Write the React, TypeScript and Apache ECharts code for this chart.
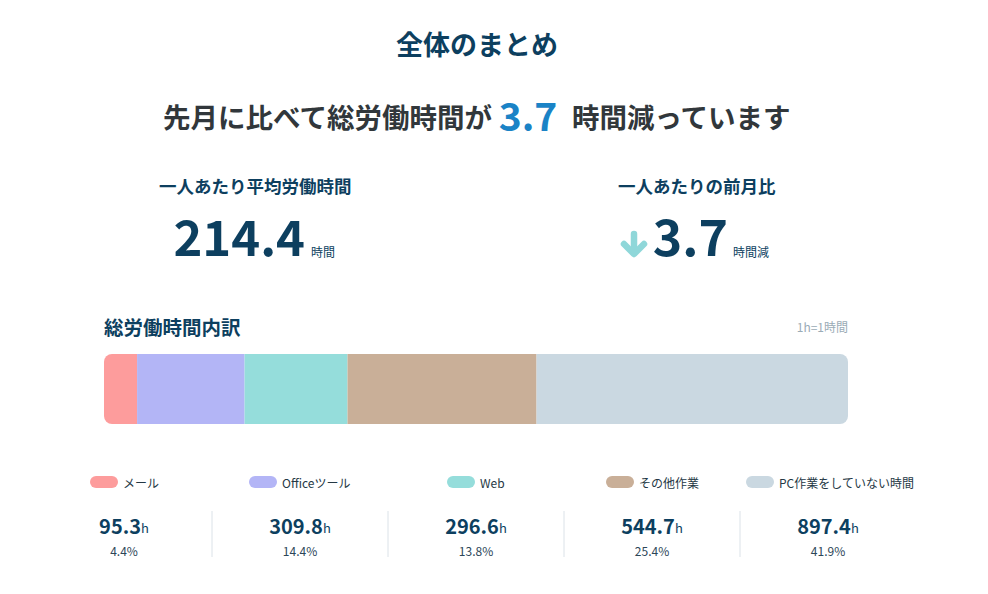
import React, { useEffect, useRef } from "react";
import * as echarts from "echarts";

const categories = ["メール", "Officeツール", "Web", "その他作業", "PC作業をしていない時間"];
const hours = [95.3, 309.8, 296.6, 544.7, 897.4];
const shareLabels = ["4.4%", "14.4%", "13.8%", "25.4%", "41.9%"];
const colors = ["#fd9c9c", "#b3b5f6", "#95dddb", "#c9af98", "#cad8e1"];
const avgHours = "214.4";
const diffHours = "3.7";

const FONT = "'Noto Sans CJK JP', 'Noto Sans', sans-serif";
const NAVY = "#0d3f5f";
const DARK = "#31373b";

const legendLefts = [90, 249, 447, 606, 746];
const colCenters = [124, 300, 476, 652, 828];
const dividers = [212, 388, 564, 740];

export default function App() {
  const ref = useRef<HTMLDivElement>(null);

  useEffect(() => {
    if (!ref.current) return;
    const chart = echarts.init(ref.current, undefined, { renderer: "svg" });
    const total = hours.reduce((a, b) => a + b, 0);
    const last = hours.length - 1;

    const graphic: any[] = [
      {
        type: "text", x: 477, y: 43,
        style: { text: "全体のまとめ", font: `bold 27px ${FONT}`, fill: NAVY, align: "center", verticalAlign: "middle" },
      },
      {
        type: "text", x: 492, y: 116,
        style: { text: "先月に比べて総労働時間が", font: `bold 27.5px ${FONT}`, fill: DARK, align: "right", verticalAlign: "middle" },
      },
      {
        type: "text", x: 528, y: 114,
        style: { text: diffHours, font: `bold 39px ${FONT}`, fill: "#1a83c6", align: "center", verticalAlign: "middle" },
      },
      {
        type: "text", x: 572, y: 116,
        style: { text: "時間減っています", font: `bold 27.5px ${FONT}`, fill: DARK, align: "left", verticalAlign: "middle" },
      },
      {
        type: "text", x: 159, y: 185,
        style: { text: "一人あたり平均労働時間", font: `bold 17.5px ${FONT}`, fill: NAVY, align: "left", verticalAlign: "middle" },
      },
      {
        type: "text", x: 305, y: 259,
        style: { text: avgHours, font: `bold 49px ${FONT}`, fill: NAVY, align: "right", verticalAlign: "bottom" },
      },
      {
        type: "text", x: 311, y: 257,
        style: { text: "時間", font: `12px ${FONT}`, fill: NAVY, align: "left", verticalAlign: "bottom" },
      },
      {
        type: "text", x: 618, y: 185,
        style: { text: "一人あたりの前月比", font: `bold 17.5px ${FONT}`, fill: NAVY, align: "left", verticalAlign: "middle" },
      },
      {
        type: "polyline",
        shape: { points: [[634, 234], [634, 253]] },
        style: { stroke: "#8fd7d9", lineWidth: 6.5, lineCap: "round" },
      },
      {
        type: "polyline",
        shape: { points: [[624, 244], [634, 254], [644, 244]] },
        style: { stroke: "#8fd7d9", lineWidth: 6.5, lineCap: "round", lineJoin: "round", fill: null },
      },
      {
        type: "text", x: 728, y: 259,
        style: { text: diffHours, font: `bold 50px ${FONT}`, fill: NAVY, align: "right", verticalAlign: "bottom" },
      },
      {
        type: "text", x: 733, y: 257,
        style: { text: "時間減", font: `12px ${FONT}`, fill: NAVY, align: "left", verticalAlign: "bottom" },
      },
      {
        type: "text", x: 104, y: 326,
        style: { text: "総労働時間内訳", font: `bold 19.5px ${FONT}`, fill: NAVY, align: "left", verticalAlign: "middle" },
      },
      {
        type: "text", x: 848, y: 326,
        style: { text: "1h=1時間", font: `12px ${FONT}`, fill: "#9aabb6", align: "right", verticalAlign: "middle" },
      },
    ];

    dividers.forEach((x) => {
      graphic.push({
        type: "line",
        shape: { x1: x, y1: 511, x2: x, y2: 557 },
        style: { stroke: "#dbe2e8", lineWidth: 1 },
      });
    });

    hours.forEach((h, i) => {
      graphic.push({
        type: "text", x: colCenters[i], y: 535,
        style: {
          text: `{v|${h.toFixed(1)}}{u|h}`,
          align: "center",
          verticalAlign: "bottom",
          rich: {
            v: { font: `bold 20px ${FONT}`, fill: NAVY, verticalAlign: "bottom" },
            u: { font: `13px ${FONT}`, fill: NAVY, verticalAlign: "bottom", padding: [0, 0, 1, 0] },
          },
        },
      });
      graphic.push({
        type: "text", x: colCenters[i], y: 550,
        style: { text: shareLabels[i], font: `12px ${FONT}`, fill: "#2c4658", align: "center", verticalAlign: "middle" },
      });
    });

    const legends = categories.map((name, i) => ({
      data: [name],
      left: legendLefts[i],
      top: 476,
      padding: 0,
      itemWidth: 28,
      itemHeight: 12,
      itemGap: 5,
      icon: "path://M6,0 L22,0 A6,6 0 0 1 22,12 L6,12 A6,6 0 0 1 6,0 Z",
      selectedMode: false,
      textStyle: { fontFamily: FONT, fontSize: 12, color: "#253845", padding: [0, 0, 0, 0] },
    }));

    chart.setOption({
      animation: false,
      backgroundColor: "#ffffff",
      grid: { left: 104, width: 744, top: 354, height: 70 },
      xAxis: { type: "value", min: 0, max: total, show: false },
      yAxis: { type: "category", data: ["総労働時間"], show: false },
      legend: legends,
      series: categories.map((name, i) => ({
        type: "bar",
        name,
        stack: "total",
        barWidth: 70,
        data: [hours[i]],
        itemStyle: {
          color: colors[i],
          borderRadius: i === 0 ? [8, 0, 0, 8] : i === last ? [0, 8, 8, 0] : 0,
        },
      })),
      graphic,
    });

    return () => chart.dispose();
  }, []);

  return (
    <div
      ref={ref}
      style={{ position: "absolute", left: 0, top: 0, width: 988, height: 594 }}
    />
  );
}
